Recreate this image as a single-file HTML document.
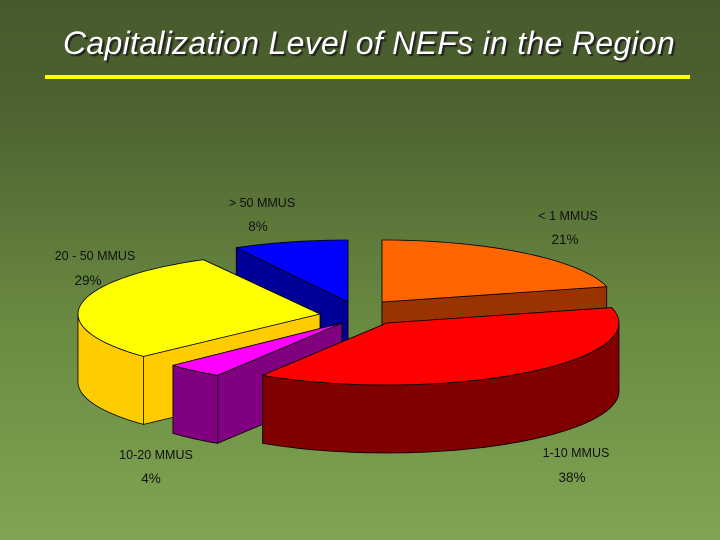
<!DOCTYPE html>
<html><head><meta charset="utf-8"><style>
html,body{margin:0;padding:0;}
body{width:720px;height:540px;overflow:hidden;background:linear-gradient(#475a2c 0%,#4c6230 20%,#6a8a42 60%,#80a452 100%);font-family:"Liberation Sans",sans-serif;}
#title{position:absolute;left:63px;top:25px;width:630px;text-align:left;color:#fff;font-style:italic;font-size:32px;letter-spacing:0.3px;white-space:nowrap;text-shadow:2px 2px 1px #222;}
#rule{position:absolute;left:45px;top:75px;width:645px;height:4px;background:#ffff00;}
svg{position:absolute;left:0;top:0;}
</style></head><body>
<div id="title">Capitalization Level of NEFs in the Region</div>
<div id="rule"></div>
<svg id="chart" width="720" height="540"></svg>
<script>
const categories=["< 1 MMUS","1-10 MMUS","10-20 MMUS","20 - 50 MMUS","> 50 MMUS"];
const values=[21,38,4,29,8];
const topColors=["#ff6600","#ff0000","#ff00ff","#ffff00","#0000ff"];
const sideColors=["#993300","#800000","#800080","#ffcc00","#000099"];
const apexX=[382,387,342,320,348];
const apexY=[302,323,323,314,302];
const labelPos=[[568,220,565,244],[576,457,572,482],[156,459,151,483],[95,260,88,285],[262,207,258,231]];
const drawOrder=[4,0,3,2,1];
const RX=232,RY=62,DEPTH=68;
const NS="http://www.w3.org/2000/svg";
const svg=document.getElementById('chart');
const total=values.reduce((a,b)=>a+b,0);
const starts=[];let acc=0;
values.forEach(v=>{starts.push(acc/total*360);acc+=v;});
function rxFor(i){return i===3?RX+10:RX;}
function pt(i,a,dz){const r=a*Math.PI/180;return [apexX[i]+rxFor(i)*Math.sin(r),apexY[i]-RY*Math.cos(r)+(dz||0)];}
function mk(tag,attrs){const e=document.createElementNS(NS,tag);for(const k in attrs)e.setAttribute(k,attrs[k]);svg.appendChild(e);return e;}
function arcPts(i,a0,a1,dz){const p=[];const n=Math.max(2,Math.ceil((a1-a0)/2));for(let k=0;k<=n;k++)p.push(pt(i,a0+(a1-a0)*k/n,dz));return p;}
function P(pts){return pts.map(p=>p[0].toFixed(1)+","+p[1].toFixed(1)).join(" ");}
drawOrder.forEach(i=>{
  const a0=starts[i],a1=a0+values[i]/total*360;
  const ax=apexX[i],ay=apexY[i];
  const walls=[];
  [a0,a1].forEach(a=>{const p=pt(i,a);walls.push({y:(p[1]+ay)/2,pts:[[ax,ay],p,[p[0],p[1]+DEPTH],[ax,ay+DEPTH]]});});
  const s=Math.max(a0,90),e=Math.min(a1,270);
  if(e>s){const top=arcPts(i,s,e,0),bot=arcPts(i,s,e,DEPTH).reverse();walls.push({y:9999,pts:top.concat(bot)});}
  walls.sort((a,b)=>a.y-b.y);
  walls.forEach(w=>{
    const el=mk('polygon',{points:P(w.pts),fill:sideColors[i],stroke:"#000","stroke-width":0.8,"stroke-linejoin":"round"});
    
    
  });
  const topPts=[[ax,ay]].concat(arcPts(i,a0,a1,0));
  const t=mk('polygon',{points:P(topPts),fill:topColors[i],stroke:"#000","stroke-width":0.8,"stroke-linejoin":"round"});
  
  
});
categories.forEach((c,i)=>{
  const lp=labelPos[i];
  const t1=mk('text',{x:lp[0],y:lp[1],"text-anchor":"middle","font-size":12.5,fill:"#111","font-family":"Liberation Sans, sans-serif"});
  t1.textContent=c;
  
  
  const t2=mk('text',{x:lp[2],y:lp[3],"text-anchor":"middle","font-size":13.5,fill:"#111","font-family":"Liberation Sans, sans-serif"});
  t2.textContent=values[i]+"%";
  
  
});
</script>
</body></html>
